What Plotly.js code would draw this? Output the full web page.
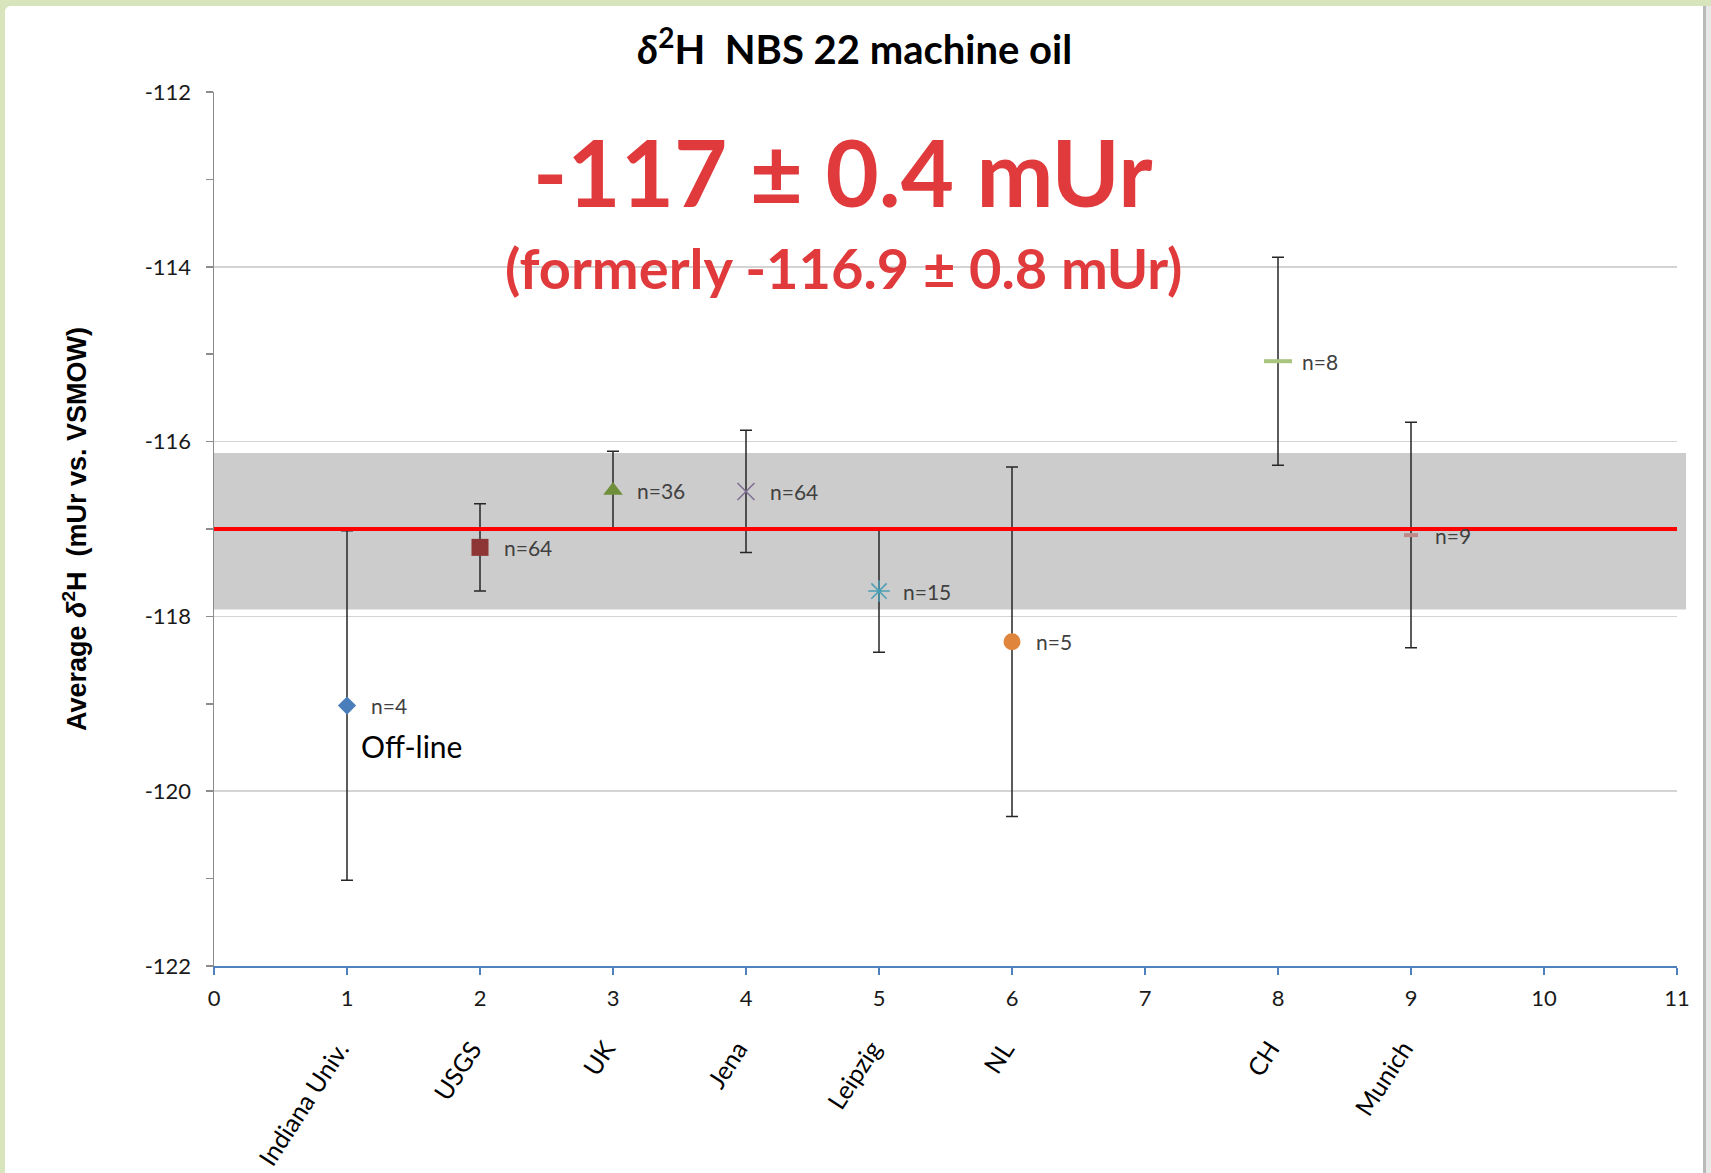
<!DOCTYPE html>
<html>
<head>
<meta charset="utf-8">
<script src="https://cdn.plot.ly/plotly-3.0.1.min.js"></script>
<style>
  html, body { margin:0; padding:0; background:#d8e4bc; width:1711px; height:1173px; overflow:hidden; }
  #wrap { position:absolute; left:5px; top:6px; width:1698px; height:1167px; background:#fff; border-top-left-radius:6px; overflow:hidden; }
  #strip { position:absolute; left:1703px; top:6px; width:8px; height:1167px; background:linear-gradient(to right, #b9b9b9 0px, #b9b9b9 3px, #e8e8e8 3px); }
  #chart { width:1698px; height:1167px; }
</style>
</head>
<body>
<div id="wrap"><div id="chart"></div></div>
<div id="strip"></div>
<script>
// ---- data ----
const sites     = ['Indiana Univ.', 'USGS', 'UK', 'Jena', 'Leipzig', 'NL', 'CH', 'Munich'];
const siteX     = [1, 2, 3, 4, 5, 6, 8, 9];
const meanVals  = [-119.02, -117.21, -116.56, -116.57, -117.71, -118.29, -115.08, -117.07];
const errVals   = [2.0, 0.5, 0.45, 0.7, 0.7, 2.0, 1.19, 1.29];
const nLabels   = ['n=4', 'n=64', 'n=36', 'n=64', 'n=15', 'n=5', 'n=8', 'n=9'];
const refValue  = -117.0;
const bandLow   = -117.92;
const bandHigh  = -116.13;
const refLineX  = [0, 11];
const xTickVals = [0, 1, 2, 3, 4, 5, 6, 7, 8, 9, 10, 11];
const yTickVals = [-122, -120, -118, -116, -114, -112];
const headline  = '-117 ± 0.4 mUr';
const subline   = '(formerly -116.9 ± 0.8 mUr)';
const offLineNote = {x: 1.09, y: -119.48, text: 'Off-line'};

// ---- styles ----
const symbols = ['diamond', 'square', 'triangle-up', 'x-thin-open', 'asterisk-open', 'circle', 'line-ew', 'line-ew'];
const colors  = ['#4a7ebb', '#8e3535', '#6f8f3a', '#7d6b91', '#4a9fb5', '#e0863c', '#a9c47f', '#c08a8a'];
const sizes   = [14, 17, 17, 17, 18, 17, 20, 10];
const lineW   = [0, 0, 0, 1.5, 1.5, 0, 4, 4];

const FONT = 'Lato, "Open Sans", sans-serif';

const traces = [];
for (let i = 0; i < sites.length; i++) {
  const open = symbols[i].indexOf('open') >= 0 || symbols[i].indexOf('line') === 0;
  traces.push({
    type: 'scatter', mode: 'markers',
    x: [siteX[i]], y: [meanVals[i]],
    name: sites[i],
    error_y: {type: 'data', array: [errVals[i]], visible: true, color: '#262626', thickness: 1.5, width: 6},
    marker: {
      symbol: symbols[i], size: sizes[i],
      color: colors[i],
      line: {color: colors[i], width: open ? lineW[i] : 0}
    },
    cliponaxis: false,
    showlegend: false, hoverinfo: 'skip'
  });
}
// reference line
traces.push({
  type: 'scatter', mode: 'lines',
  x: refLineX, y: refLineX.map(() => refValue),
  line: {color: '#ff0000', width: 4},
  showlegend: false, hoverinfo: 'skip'
});

const annotations = [];
// n labels
for (let i = 0; i < sites.length; i++) {
  annotations.push({
    x: siteX[i], y: meanVals[i], xref: 'x', yref: 'y',
    text: nLabels[i], showarrow: false,
    xanchor: 'left', yanchor: 'middle', xshift: 22,
    font: {family: FONT, size: 21, color: '#404040'}
  });
}
// rotated category labels
for (let i = 0; i < sites.length; i++) {
  annotations.push({
    x: siteX[i], y: -0.076, xref: 'x', yref: 'paper',
    text: sites[i], showarrow: false, textangle: -57,
    xanchor: 'right', yanchor: 'top', xshift: 10,
    font: {family: FONT, size: 25, color: '#000000'}
  });
}
// off-line note
annotations.push({
  x: offLineNote.x, y: offLineNote.y, xref: 'x', yref: 'y',
  text: offLineNote.text, showarrow: false, xanchor: 'left', yanchor: 'middle',
  font: {family: FONT, size: 30, color: '#000000'}
});
// headline
const headPos = [{t: headline, y: 0.9085, s: 92}, {t: subline, y: 0.799, s: 56}];
headPos.forEach(h => {
  annotations.push({
    x: 0.43, y: h.y, xref: 'paper', yref: 'paper', text: '<b>' + h.t + '</b>', showarrow: false,
    xanchor: 'center', yanchor: 'middle',
    font: {family: FONT, size: h.s, color: '#e03a3c'}
  });
});

const layout = {
  width: 1698, height: 1167,
  paper_bgcolor: '#ffffff', plot_bgcolor: '#ffffff',
  margin: {l: 209, r: 26, t: 86, b: 207},
  title: {
    text: '<b><i>δ</i><sup>2</sup>H  NBS 22 machine oil</b>',
    x: 0.438, xref: 'paper', xanchor: 'center',
    y: 0.962, yref: 'container', yanchor: 'middle',
    font: {family: FONT, size: 40, color: '#000000'}
  },
  xaxis: {
    range: [0, 11], tickvals: xTickVals, ticktext: xTickVals.map(String),
    showgrid: false, zeroline: false,
    showline: true, linecolor: '#4f81bd', linewidth: 2,
    ticks: 'outside', ticklen: 7, tickcolor: '#4f81bd', tickwidth: 1.5,
    ticklabelstandoff: 5,
    tickfont: {family: FONT, size: 22, color: '#1a1a1a'}
  },
  yaxis: {
    range: [-122, -112], tickvals: yTickVals, ticktext: yTickVals.map(String),
    showgrid: true, gridcolor: '#d4d4d4', gridwidth: 1.5, zeroline: false,
    showline: true, linecolor: '#8c8c8c', linewidth: 1.5,
    ticks: 'outside', ticklen: 7, tickcolor: '#8c8c8c', tickwidth: 1.5,
    minor: {dtick: 1, ticks: 'outside', ticklen: 7, tickcolor: '#8c8c8c', tickwidth: 1.5, showgrid: false},
    ticklabelstandoff: 10,
    tickfont: {family: FONT, size: 22, color: '#1a1a1a'},
    title: {
      text: '<b>Average <i>δ</i><sup>2</sup>H  (mUr vs. VSMOW)</b>',
      standoff: 50,
      font: {family: '"Liberation Sans", Arial, sans-serif', size: 27, color: '#000000'}
    }
  },
  shapes: [{
    type: 'rect', layer: 'below',
    xref: 'paper', x0: 0, x1: 1.0062,
    yref: 'y', y0: bandLow, y1: bandHigh,
    fillcolor: '#cccccc', line: {width: 0}
  }],
  annotations: annotations
};

Plotly.newPlot('chart', traces, layout, {displayModeBar: false, staticPlot: true});
</script>
</body>
</html>
